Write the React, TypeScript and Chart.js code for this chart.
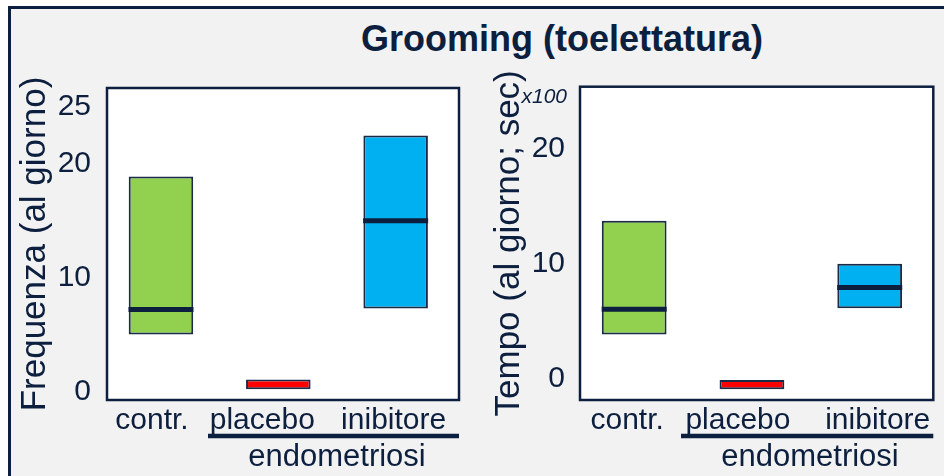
import React, { useEffect, useRef } from 'react';
import { Chart, registerables } from 'chart.js';

Chart.register(...registerables);

const NAVY = '#0c1f3e';
const FONT = "'Liberation Sans', Arial, sans-serif";

// ---- data ----
const categories = ['contr.', 'placebo', 'inibitore'];
const barColors = ['#92d050', '#ff0000', '#00b0f0'];

const freqLow = [5.0, 0.2, 7.3];
const freqHigh = [18.9, 1.05, 22.5];
const freqMedian: (number | null)[] = [7.2, null, 15.0];
const freqTicks = [0, 10, 20, 25];

const timeLow = [3.8, -0.95, 6.1];
const timeHigh = [13.7, -0.15, 9.95];
const timeMedian: (number | null)[] = [6.0, null, 7.9];
const timeTicks = [0, 10, 20];

const groupLabel = 'endometriosi';
const titleText = 'Grooming (toelettatura)';

type PanelCfg = {
  low: number[];
  high: number[];
  median: (number | null)[];
  ticks: number[];
  yMin: number;
  yMax: number;
  yTitle: string;
  yTitlePad: number;
  yWidth: number;
  tickPad: number;
  padTop: number;
  padRight: number;
  labelShift: number[];
  multiplier?: string;
};

function makeChart(canvas: HTMLCanvasElement, p: PanelCfg) {
  const extras = {
    id: 'extras',
    beforeDraw(chart: any) {
      const { ctx, chartArea: a } = chart;
      ctx.save();
      ctx.fillStyle = '#ffffff';
      ctx.fillRect(a.left, a.top, a.right - a.left, a.bottom - a.top);
      ctx.restore();
    },
    afterDraw(chart: any) {
      const { ctx, chartArea: a } = chart;
      const xs = chart.scales.x;
      ctx.save();
      ctx.strokeStyle = NAVY;
      ctx.lineWidth = 2.5;
      ctx.strokeRect(a.left, a.top, a.right - a.left, a.bottom - a.top);
      // category labels
      ctx.fillStyle = NAVY;
      ctx.font = `30px ${FONT}`;
      ctx.textAlign = 'center';
      ctx.textBaseline = 'middle';
      categories.forEach((c, i) => {
        ctx.fillText(c, xs.getPixelForValue(i) + p.labelShift[i], a.bottom + 21);
      });
      // group underline
      ctx.lineWidth = 4.5;
      ctx.beginPath();
      ctx.moveTo(a.left + 101, a.bottom + 36);
      ctx.lineTo(a.right, a.bottom + 36);
      ctx.stroke();
      ctx.font = `31px ${FONT}`;
      ctx.fillText(groupLabel, a.left + 230, a.bottom + 57);
      if (p.multiplier) {
        ctx.font = `italic 21px ${FONT}`;
        ctx.textAlign = 'right';
        ctx.fillText(p.multiplier, a.left - 13, a.top + 10);
      }
      ctx.restore();
    },
  };

  return new Chart(canvas, {
    type: 'bar',
    data: {
      datasets: [
        {
          type: 'line' as any,
          data: p.median.map((m, i) => ({ x: i, y: m })) as any,
          showLine: false,
          pointStyle: 'line',
          pointRadius: 32.5,
          pointHoverRadius: 32.5,
          pointBorderWidth: 5,
          pointHoverBorderWidth: 5,
          pointBorderColor: NAVY,
          borderColor: NAVY,
          order: 0,
        } as any,
        {
          type: 'bar',
          data: p.low.map((l, i) => ({ x: i, y: [l, p.high[i]] })) as any,
          backgroundColor: barColors,
          borderColor: '#1a2b47',
          borderWidth: 2,
          borderSkipped: false,
          barPercentage: 0.55,
          categoryPercentage: 1,
          order: 1,
        } as any,
      ],
    },
    options: {
      responsive: false,
      animation: false,
      devicePixelRatio: 1,
      layout: { autoPadding: false, padding: { left: 0, top: p.padTop, right: p.padRight, bottom: 0 } },
      plugins: { legend: { display: false }, tooltip: { enabled: false }, title: { display: false } },
      scales: {
        x: {
          type: 'linear',
          offset: false,
          min: -0.46,
          max: 2.54,
          bounds: 'data',
          grid: { display: false, drawTicks: false, offset: false },
          border: { display: false },
          afterBuildTicks: (s: any) => {
            s.ticks = categories.map((_, i) => ({ value: i }));
          },
          afterFit: (s: any) => {
            s.height = 76;
            s.paddingLeft = 0;
            s.paddingRight = 0;
          },
          ticks: { display: false },
        },
        y: {
          type: 'linear',
          min: p.yMin,
          max: p.yMax,
          grid: { display: false, drawTicks: false },
          border: { display: false },
          afterBuildTicks: (s: any) => {
            s.ticks = p.ticks.map((v) => ({ value: v }));
          },
          afterFit: (s: any) => {
            s.width = p.yWidth;
            s.paddingTop = 0;
            s.paddingBottom = 0;
          },
          ticks: {
            padding: p.tickPad,
            color: NAVY,
            font: { family: FONT, size: 30 },
            callback: (v: any) => String(v),
          },
          title: {
            display: true,
            text: p.yTitle,
            color: NAVY,
            font: { family: FONT, size: 35 },
            padding: { top: p.yTitlePad, bottom: 0 },
          },
        },
      },
    },
    plugins: [extras],
  } as any);
}

function Panel({ cfg, left }: { cfg: PanelCfg; left: number }) {
  const ref = useRef<HTMLCanvasElement>(null);
  useEffect(() => {
    if (!ref.current) return;
    const c = makeChart(ref.current, cfg);
    return () => c.destroy();
  }, []);
  return (
    <canvas
      ref={ref}
      width={472}
      height={416}
      style={{ position: 'absolute', left, top: 60, width: 472, height: 416, display: 'block' }}
    />
  );
}

const leftCfg: PanelCfg = {
  low: freqLow,
  high: freqHigh,
  median: freqMedian,
  ticks: freqTicks,
  yMin: -0.75,
  yMax: 26.67,
  yTitle: 'Frequenza (al giorno)',
  yTitlePad: 14,
  yWidth: 107,
  tickPad: 16,
  padTop: 28,
  padRight: 13,
  labelShift: [-9, -16, -2],
};

const rightCfg: PanelCfg = {
  low: timeLow,
  high: timeHigh,
  median: timeMedian,
  ticks: timeTicks,
  yMin: -1.89,
  yMax: 25.36,
  yTitle: 'Tempo (al giorno; sec)',
  yTitlePad: 16,
  yWidth: 108,
  tickPad: 15,
  padTop: 26.7,
  padRight: 10.7,
  labelShift: [-7, -14, 8],
  multiplier: 'x100',
};

export default function App() {
  useEffect(() => {
    document.body.style.overflow = 'hidden';
  }, []);
  return (
    <div style={{ position: 'fixed', left: 0, top: 0, width: 944, height: 476, overflow: 'hidden', background: '#ffffff' }}>
      <div
        style={{
          position: 'absolute',
          left: 8,
          top: 6,
          width: 960,
          height: 500,
          background: '#f2f2f2',
          borderTop: `3px solid ${NAVY}`,
          borderLeft: `3px solid ${NAVY}`,
        }}
      />
      <div
        style={{
          position: 'absolute',
          left: 262,
          top: 19,
          width: 600,
          textAlign: 'center',
          fontFamily: FONT,
          fontWeight: 'bold',
          fontSize: 36,
          lineHeight: '40px',
          color: NAVY,
          whiteSpace: 'nowrap',
        }}
      >
        {titleText}
      </div>
      <Panel cfg={leftCfg} left={0} />
      <Panel cfg={rightCfg} left={472} />
    </div>
  );
}
